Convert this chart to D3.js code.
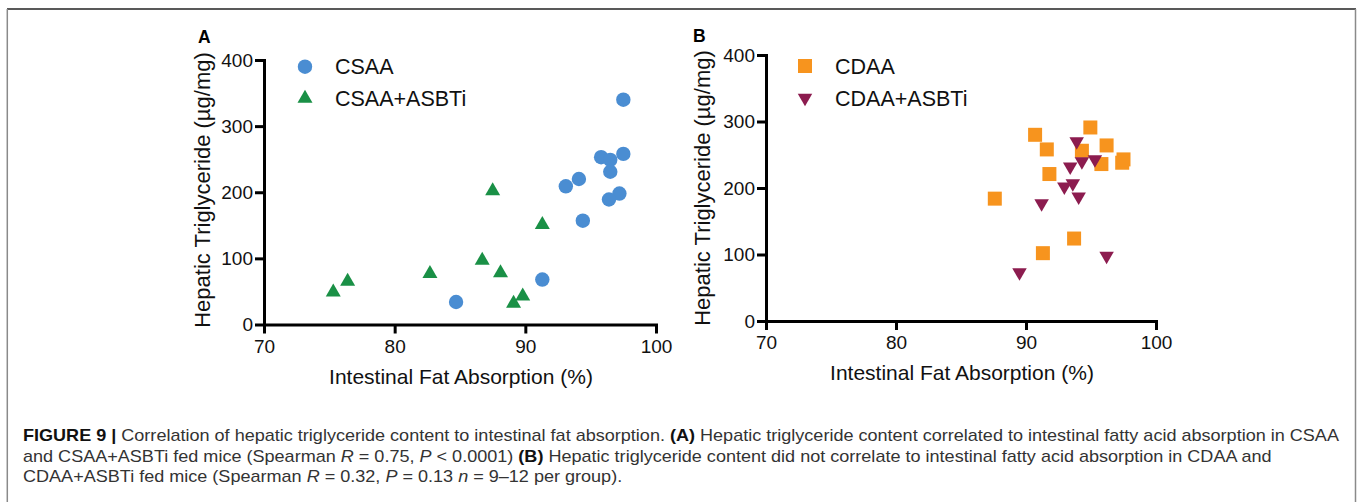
<!DOCTYPE html>
<html>
<head>
<meta charset="utf-8">
<script src="https://cdn.jsdelivr.net/npm/d3@7"></script>
<style>
  html, body { margin: 0; padding: 0; background: #fff; }
  svg { display: block; font-family: "Liberation Sans", Arial, Helvetica, sans-serif; }
</style>
</head>
<body>
<svg id="chart" width="1358" height="502"></svg>
<script>
// ---- data ----
const xTicks = [70, 80, 90, 100];
const yTicks = [0, 100, 200, 300, 400];

const csaaX = [97.5, 95.8, 96.5, 97.5, 96.5, 94.1, 93.1, 97.2, 96.4, 94.4, 91.3, 84.7];
const csaaY = [340, 253, 249, 258, 231, 220, 209, 198, 189, 157, 68, 34];
const csaaAsbtiX = [87.5, 91.3, 86.7, 82.7, 88.1, 75.3, 76.4, 89.8, 89.1];
const csaaAsbtiY = [202, 151, 97, 77, 78, 49, 65, 43, 32];

const cdaaX = [94.95, 90.7, 91.6, 96.2, 94.3, 95.8, 97.4, 97.5, 91.8, 87.6, 93.7, 91.3];
const cdaaY = [291, 280, 258, 264, 256, 236, 238, 243, 221, 184, 124, 102];
const cdaaAsbtiX = [93.9, 95.3, 94.3, 93.4, 93.6, 92.95, 94.05, 91.2, 96.2, 89.5];
const cdaaAsbtiY = [270, 243, 240, 232, 207, 202, 187, 177, 98, 73];

const seriesA = ["CSAA", "CSAA+ASBTi"];
const seriesB = ["CDAA", "CDAA+ASBTi"];
const xTitle = "Intestinal Fat Absorption (%)";
const yTitle = "Hepatic Triglyceride (µg/mg)";

const colors = { blue: "#4a8dd2", green: "#1a9046", orange: "#f7941e", maroon: "#8c1c4f" };

const svg = d3.select("#chart");

// frame
svg.append("line").attr("x1", 7).attr("x2", 1356).attr("y1", 9).attr("y2", 9)
  .attr("stroke", "#222").attr("stroke-width", 1.5);
svg.append("line").attr("x1", 7.3).attr("x2", 7.3).attr("y1", 9).attr("y2", 502)
  .attr("stroke", "#8a8a8a").attr("stroke-width", 1.5);
svg.append("line").attr("x1", 1355.5).attr("x2", 1355.5).attr("y1", 9).attr("y2", 502)
  .attr("stroke", "#8a8a8a").attr("stroke-width", 1.5);

// marker paths
function circlePath(r) { return d3.symbol(d3.symbolCircle, Math.PI * r * r)(); }
function triUp(w, h) { return `M0,${-2*h/3}L${w/2},${h/3}L${-w/2},${h/3}Z`; }
function triDown(w, h) { return `M0,${2*h/3}L${w/2},${-h/3}L${-w/2},${-h/3}Z`; }
function square(s) { return `M${-s/2},${-s/2}h${s}v${s}h${-s}Z`; }

const shapes = {
  circle: circlePath(7.2),
  up: triUp(15, 13),
  down: triDown(14.5, 12.5),
  square: square(14)
};

function panel(cfg) {
  const g = svg.append("g");
  const x = d3.scaleLinear().domain([70, 100]).range(cfg.xr);
  const y = d3.scaleLinear().domain([0, 400]).range(cfg.yr);

  const xAxis = d3.axisBottom(x).tickValues(xTicks).tickSize(9).tickPadding(6).tickSizeOuter(0);
  const yAxis = d3.axisLeft(y).tickValues(yTicks).tickSize(9).tickPadding(2).tickSizeOuter(0);

  const gx = g.append("g").attr("transform", `translate(0,${cfg.yr[0]})`).call(xAxis);
  const gy = g.append("g").attr("transform", `translate(${cfg.xr[0]},0)`).call(yAxis);
  [gx, gy].forEach(a => {
    a.attr("font-size", null).attr("font-family", null);
    a.select(".domain").attr("stroke", "#000").attr("stroke-width", 3).attr("stroke-linecap", "square");
    a.selectAll(".tick line").attr("stroke", "#000").attr("stroke-width", 3);
    a.selectAll(".tick text").attr("fill", "#111").style("font-size", "19px")
      .style("font-family", '"Liberation Sans", Arial, sans-serif');
  });

  // titles
  g.append("text").attr("x", (cfg.xr[0] + cfg.xr[1]) / 2 + 1).attr("y", cfg.xTitleY)
    .attr("text-anchor", "middle").style("font-size", "21px").attr("fill", "#111").text(xTitle);
  g.append("text")
    .attr("transform", `translate(${cfg.yTitleX},${cfg.yTitleCY}) rotate(-90)`)
    .attr("text-anchor", "middle").style("font-size", "22px").attr("fill", "#111").text(yTitle);

  // panel letter
  g.append("text").attr("x", cfg.letterX).attr("y", cfg.letterY)
    .style("font-size", "17.5px").style("font-weight", "bold").attr("fill", "#000").text(cfg.letter);

  // points
  cfg.series.forEach(s => {
    g.append("g").selectAll("path").data(s.xs.map((v, i) => [v, s.ys[i]])).join("path")
      .attr("d", shapes[s.shape])
      .attr("transform", d => `translate(${x(d[0])},${y(d[1])})`)
      .attr("fill", s.color);
  });

  // legend
  cfg.series.forEach((s, i) => {
    const ly = cfg.legendY[i];
    g.append("path").attr("d", shapes[s.shape])
      .attr("transform", `translate(${cfg.legendX},${ly})`).attr("fill", s.color);
    g.append("text").attr("x", cfg.legendX + 30).attr("y", ly).attr("dy", "0.36em")
      .style("font-size", "21.5px").attr("fill", "#111").text(s.name);
  });
}

panel({
  xr: [264, 656], yr: [324.5, 60],
  xTitleY: 383.5, yTitleX: 209.5, yTitleCY: 190,
  letter: "A", letterX: 198, letterY: 42.7,
  legendX: 305, legendY: [66.7, 98.5],
  series: [
    { name: seriesA[0], xs: csaaX, ys: csaaY, shape: "circle", color: colors.blue },
    { name: seriesA[1], xs: csaaAsbtiX, ys: csaaAsbtiY, shape: "up", color: colors.green }
  ]
});

panel({
  xr: [766, 1156], yr: [321, 55],
  xTitleY: 380, yTitleX: 709.5, yTitleCY: 188,
  letter: "B", letterX: 693, letterY: 42,
  legendX: 805, legendY: [66, 98],
  series: [
    { name: seriesB[0], xs: cdaaX, ys: cdaaY, shape: "square", color: colors.orange },
    { name: seriesB[1], xs: cdaaAsbtiX, ys: cdaaAsbtiY, shape: "down", color: colors.maroon }
  ]
});

// caption
const captionLines = [
  [["FIGURE 9 | ", "b"], ["Correlation of hepatic triglyceride content to intestinal fat absorption. ", ""], ["(A)", "b"],
   [" Hepatic triglyceride content correlated to intestinal fatty acid absorption in CSAA", ""]],
  [["and CSAA+ASBTi fed mice (Spearman ", ""], ["R", "i"], [" = 0.75, ", ""], ["P", "i"], [" < 0.0001) ", ""], ["(B)", "b"],
   [" Hepatic triglyceride content did not correlate to intestinal fatty acid absorption in CDAA and", ""]],
  [["CDAA+ASBTi fed mice (Spearman ", ""], ["R", "i"], [" = 0.32, ", ""], ["P", "i"], [" = 0.13 ", ""], ["n", "i"],
   [" = 9–12 per group).", ""]]
];
const capBase = [441.5, 462, 482.5];
const capG = svg.append("g");
const capTexts = captionLines.map((line, li) => {
  const t = capG.append("text").attr("x", 0).attr("y", capBase[li])
    .style("font-size", "16px").attr("fill", "#333").attr("xml:space", "preserve");
  line.forEach(([txt, st]) => {
    const ts = t.append("tspan").text(txt);
    if (st === "b") ts.style("font-weight", "bold").attr("fill", "#111");
    if (st === "i") ts.style("font-style", "italic");
  });
  return t;
});
const w1 = capTexts[0].node().getComputedTextLength();
const sx = (1340 - 23) / w1;
capTexts.forEach(t => t.attr("transform", `translate(23,0) scale(${sx},1)`));
</script>
</body>
</html>
